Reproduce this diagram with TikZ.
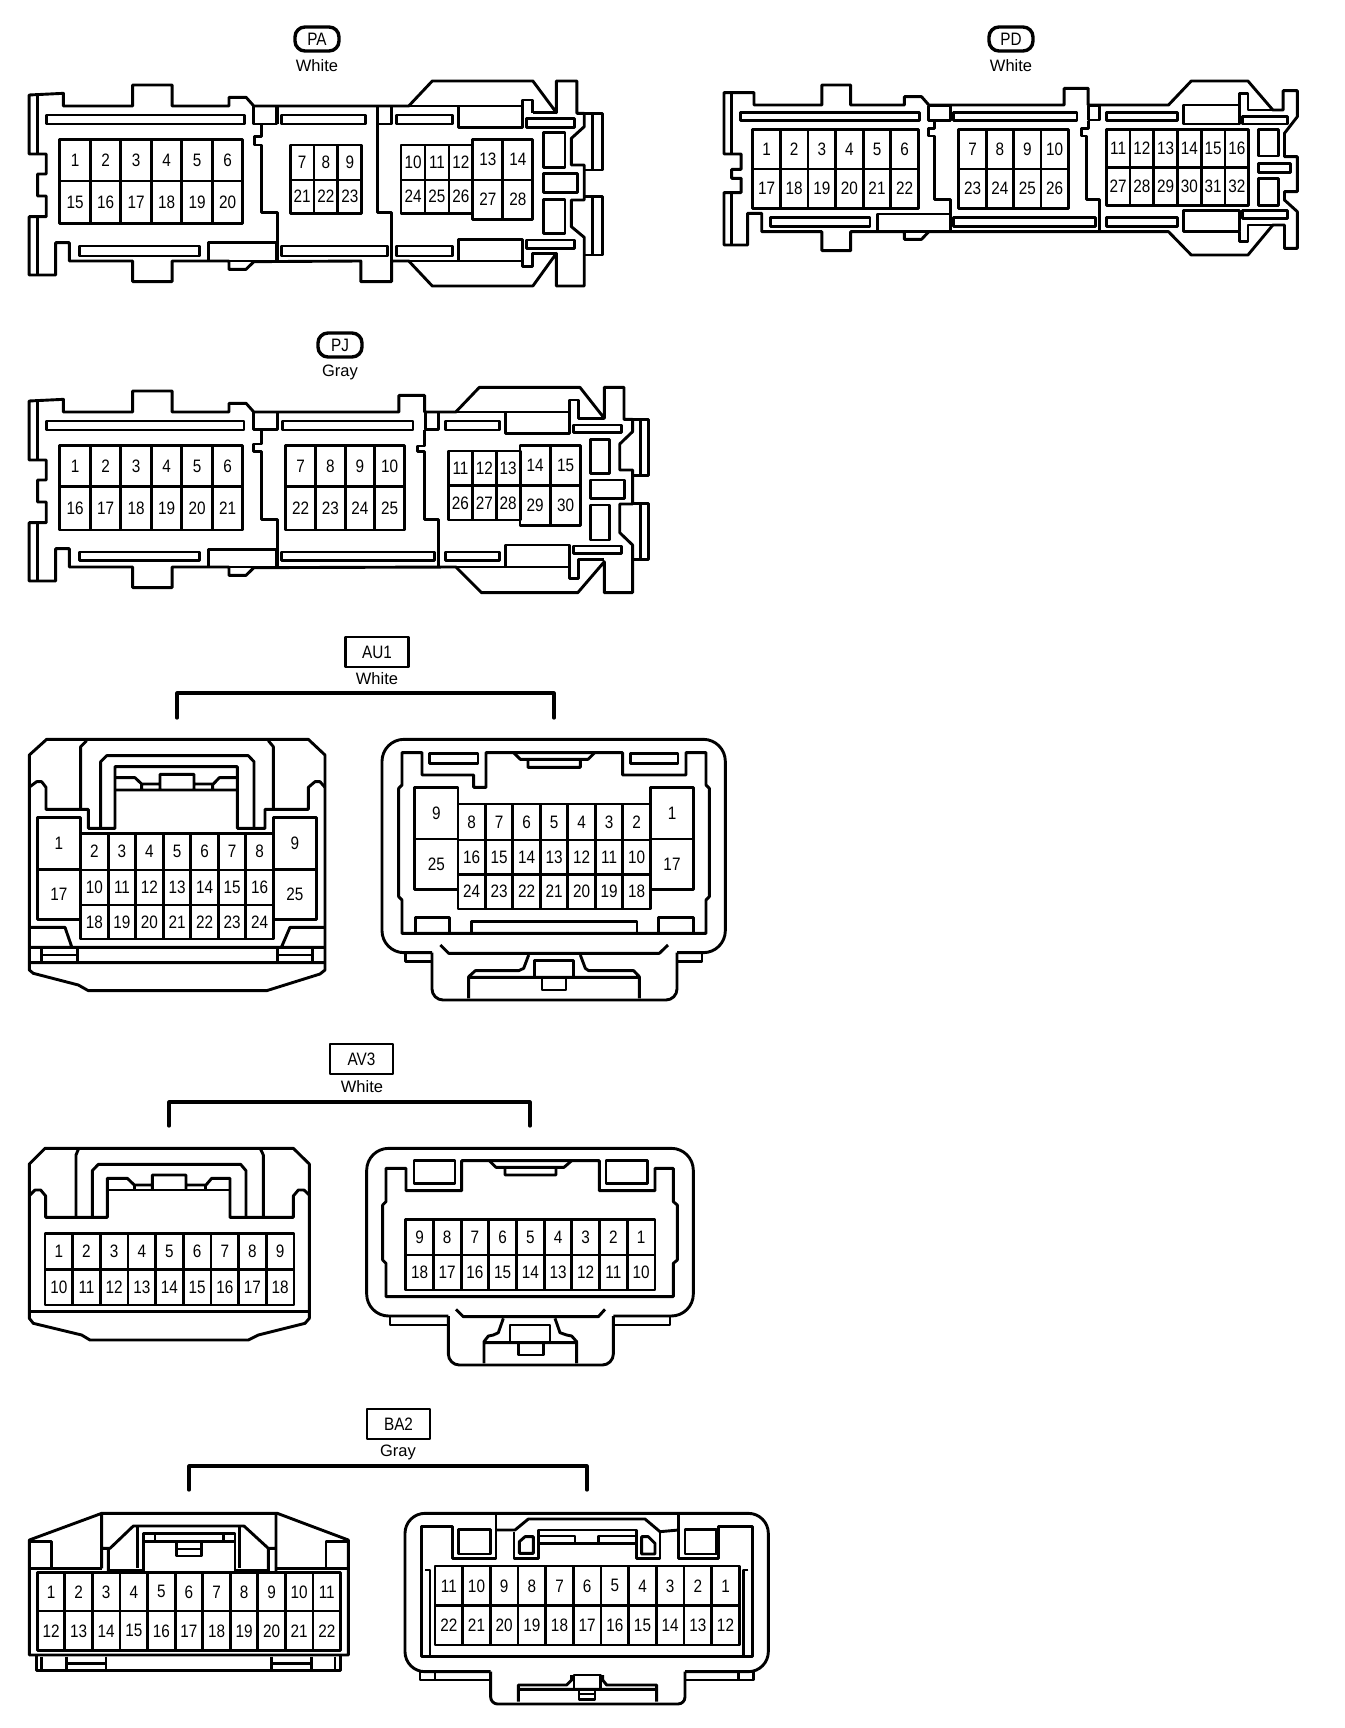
\documentclass[tikz,border=0pt]{standalone}
\usepackage{fontspec}
\setmainfont{Liberation Sans}
\newfontfamily\digitfont[FakeStretch=0.85]{Liberation Sans}
\tikzset{
  ln/.style={line width=2.9pt,line join=round,black},
  pinbox/.style={ln},
  pinlabel/.style={font=\digitfont\fontsize{18}{18}\selectfont,inner sep=0pt,black},
  pill/.style={draw,ln,line width=3.4pt,rounded corners=10pt,minimum width=44pt,minimum height=24pt,inner sep=0pt,font=\digitfont\fontsize{18}{18}\selectfont},
  tag/.style={draw,ln,minimum width=63pt,minimum height=30pt,inner sep=0pt,font=\digitfont\fontsize{18}{18}\selectfont},
  colour/.style={inner sep=0pt,font=\fontsize{16.5}{17}\selectfont},
  bracket/.style={ln,line width=3.2pt,line cap=round}
}
\newcommand\pins[6]{%
  \foreach \lab [count=\ci from 0] in {#6} {
    \pgfmathsetmacro\xa{#2+\ci*#3}
    \pgfmathsetmacro\xb{#2+(\ci+1)*#3}
    \draw[pinbox] (\xa,#4) rectangle (\xb,#5);
    \node[pinlabel] (#1-\lab) at ({(\xa+\xb)/2},{(#4+#5)/2}) {\lab};
  }}
\newcommand\boxr[4]{\draw[ln] (#1,#2) rectangle (#3,#4);}
\begin{document}
\begin{tikzpicture}[x=1pt,y=-1pt]
\useasboundingbox (0,0) rectangle (1344,1728);
% ---------- PA
\node[pill] (paT) at (317,39) {PA};
\node[colour] (paC) at (317,66) {White};
\begin{scope}[xscale=.428,yscale=1/3]
\draw[ln] (68,285)--(68,462)--(108,462)--(108,522)--(88,522)--(88,588)--(108,588)--(108,650)--(68,650)--(68,825)--(130,825)--(130,728)--(162,728)--(162,783)--(310,783)--(310,845)--(402,845)--(402,783)--(535,783)--(535,808)--(575,808)--(593,785)--(843,783)--(843,845)--(915,845)--(915,783)--(955,783)--(1010,858)--(1245,858)--(1300,760)--(1300,858)--(1365,858)--(1365,712)--(1335,680)--(1335,600)--(1365,600)--(1365,495)--(1335,495)--(1335,415)--(1365,380)--(1365,340)--(1348,340)--(1348,243)--(1300,243)--(1300,338)--(1245,243)--(1010,243)--(955,318)--(593,318)--(575,292)--(535,292)--(535,318)--(402,318)--(402,255)--(310,255)--(310,318)--(148,318)--(148,280)--cycle;
\draw[ln] (88,285)--(88,462) (88,650)--(88,825);
\draw[ln] (1365,340)--(1408,340)--(1408,510)--(1365,510) (1385,340)--(1385,510);
\draw[ln] (1365,590)--(1408,590)--(1408,765)--(1365,765) (1385,590)--(1385,765);
\boxr{108}{345}{572}{372}\boxr{593}{318}{645}{372}\boxr{658}{345}{855}{372}\boxr{882}{318}{915}{372}\boxr{927}{345}{1057}{372}\boxr{1072}{318}{1220}{382}\boxr{1230}{355}{1342}{382}
\draw[ln] (1220,382)--(1220,300)--(1245,300)--(1245,338);
\draw[ln] (1245,338)--(1300,338);
\boxr{1270}{398}{1320}{502}\boxr{1270}{520}{1350}{578}\boxr{1270}{598}{1320}{700}
\boxr{185}{738}{467}{768}\boxr{487}{728}{645}{783}\boxr{658}{738}{905}{768}\boxr{927}{738}{1057}{768}\boxr{1072}{718}{1220}{783}\boxr{1230}{720}{1342}{745}
\draw[ln] (1220,783)--(1220,800)--(1245,800)--(1245,760)--(1300,760);
\draw[ln] (610,372)--(610,410)--(595,410)--(595,435)--(610,435)--(610,638)--(648,638)--(648,783);
\draw[ln] (648,318)--(648,372) (882,372)--(882,638)--(915,638)--(915,783);
\draw[ln] (955,318)--(1220,318) (955,783)--(1220,783);
\pins{pa}{140}{71.2}{418}{543}{1,2,3,4,5,6}
\pins{pa}{140}{71.2}{543}{670}{15,16,17,18,19,20}
\pins{pa}{678}{55.7}{435}{540}{7,8,9}
\pins{pa}{678}{55.7}{540}{640}{21,22,23}
\pins{pa}{937}{56}{435}{540}{10,11,12}
\pins{pa}{937}{56}{540}{640}{24,25,26}
\pins{pa}{1105}{70}{418}{540}{13,14}
\pins{pa}{1105}{70}{540}{658}{27,28}
\end{scope}
% ---------- PD
\node[pill] (pdT) at (1011,39) {PD};
\node[colour] (pdC) at (1011,66) {White};
\begin{scope}[shift={(672.4,0)},xscale=.4295,yscale=1/3]
\draw[ln] (120,278)--(190,278)--(190,315)--(348,315)--(348,255)--(415,255)--(415,315)--(540,315)--(540,290)--(580,290)--(597,315)--(912,315)--(912,265)--(968,265)--(968,315)--(1155,315)--(1208,243)--(1340,243)--(1398,330)--(1422,330)--(1422,272)--(1455,272)--(1455,350)--(1425,400)--(1425,470)--(1455,470)--(1455,575)--(1425,575)--(1425,600)--(1455,635)--(1455,745)--(1425,745)--(1425,675)--(1398,675)--(1340,765)--(1208,765)--(1155,695)--(597,695)--(580,718)--(540,718)--(540,695)--(415,695)--(415,752)--(348,752)--(348,695)--(208,695)--(208,640)--(175,640)--(175,735)--(120,735)--(120,578)--(160,578)--(160,535)--(138,535)--(138,508)--(160,508)--(160,462)--(120,462)--cycle;
\draw[ln] (138,278)--(138,462) (138,578)--(138,735);
\boxr{158}{338}{575}{362}\boxr{597}{318}{648}{362}\boxr{655}{338}{942}{362}\boxr{968}{318}{995}{360}\boxr{1010}{338}{1175}{362}\boxr{1190}{315}{1320}{372}\boxr{1328}{350}{1432}{372}
\draw[ln] (1320,372)--(1320,280)--(1340,280)--(1340,330)--(1398,330);
\boxr{1365}{388}{1412}{468}\boxr{1365}{490}{1440}{518}\boxr{1365}{535}{1412}{617}
\boxr{228}{652}{460}{680}\boxr{478}{642}{648}{695}\boxr{655}{652}{985}{680}\boxr{1010}{652}{1175}{680}\boxr{1190}{632}{1320}{695}\boxr{1328}{632}{1432}{655}
\draw[ln] (1320,695)--(1320,725)--(1340,725)--(1340,675)--(1398,675);
\draw[ln] (610,362)--(610,385)--(597,385)--(597,408)--(610,408)--(610,598)--(648,598)--(648,695);
\draw[ln] (968,362)--(968,385)--(952,385)--(952,408)--(965,408)--(965,598)--(995,598)--(995,695);
\pins{pd}{187}{64.3}{388}{507}{1,2,3,4,5,6}
\pins{pd}{187}{64.3}{507}{625}{17,18,19,20,21,22}
\pins{pd}{667}{63.75}{388}{507}{7,8,9,10}
\pins{pd}{667}{63.75}{507}{625}{23,24,25,26}
\pins{pd}{1010}{55.3}{388}{502}{11,12,13,14,15,16}
\pins{pd}{1010}{55.3}{502}{617}{27,28,29,30,31,32}
\end{scope}
% ---------- PJ
\node[pill] (pjT) at (340,345) {PJ};
\node[colour] (pjC) at (340,372.5) {Gray};
\begin{scope}[shift={(0,320)},xscale=.428,yscale=1/3]
\draw[ln] (68,243)--(68,420)--(108,420)--(108,480)--(88,480)--(88,546)--(108,546)--(108,608)--(68,608)--(68,783)--(130,783)--(130,686)--(162,686)--(162,741)--(310,741)--(310,803)--(402,803)--(402,741)--(535,741)--(535,766)--(575,766)--(593,743)--(1065,741)--(1125,818)--(1350,818)--(1412,725)--(1412,818)--(1478,818)--(1478,675)--(1448,638)--(1448,552)--(1478,552)--(1478,450)--(1448,450)--(1448,372)--(1478,335)--(1478,298)--(1458,298)--(1458,202)--(1412,202)--(1412,295)--(1355,202)--(1120,202)--(1065,276)--(992,276)--(992,226)--(932,226)--(932,276)--(593,276)--(575,250)--(535,250)--(535,276)--(402,276)--(402,213)--(310,213)--(310,276)--(148,276)--(148,238)--cycle;
\draw[ln] (88,243)--(88,420) (88,608)--(88,783);
\draw[ln] (1478,298)--(1515,298)--(1515,467)--(1478,467) (1496,298)--(1496,467);
\draw[ln] (1478,550)--(1515,550)--(1515,718)--(1478,718) (1496,550)--(1496,718);
\boxr{108}{303}{570}{330}\boxr{593}{276}{648}{328}\boxr{660}{303}{965}{330}\boxr{995}{276}{1025}{328}\boxr{1040}{303}{1167}{330}\boxr{1182}{276}{1330}{340}\boxr{1340}{315}{1452}{338}
\draw[ln] (1330,340)--(1330,240)--(1352,240)--(1352,296)--(1412,296);
\draw[ln] (1065,276)--(1182,276) (1065,741)--(1330,741);
\boxr{1380}{358}{1425}{460}\boxr{1380}{480}{1460}{535}\boxr{1380}{555}{1425}{660}
\draw[ln] (610,330)--(610,372)--(593,372)--(593,395)--(610,395)--(610,598)--(648,598)--(648,741);
\draw[ln] (992,330)--(992,378)--(975,378)--(975,395)--(992,395)--(992,598)--(1025,598)--(1025,741);
\boxr{185}{696}{467}{722}\boxr{487}{688}{645}{741}\boxr{658}{696}{1015}{722}\boxr{1040}{696}{1167}{722}\boxr{1182}{675}{1330}{741}\boxr{1340}{678}{1452}{700}
\draw[ln] (1330,741)--(1330,775)--(1352,775)--(1352,718)--(1412,718);
\pins{pj}{140}{71.2}{377}{500}{1,2,3,4,5,6}
\pins{pj}{140}{71.2}{500}{630}{16,17,18,19,20,21}
\pins{pj}{668}{69.25}{377}{500}{7,8,9,10}
\pins{pj}{668}{69.25}{500}{630}{22,23,24,25}
\pins{pj}{1048}{55.7}{393}{497}{11,12,13}
\pins{pj}{1048}{55.7}{497}{600}{26,27,28}
\pins{pj}{1215}{71}{377}{497}{14,15}
\pins{pj}{1215}{71}{497}{617}{29,30}
\end{scope}
% ---------- AU1
\node[tag] (auT) at (377,652) {AU1};
\node[colour] (auC) at (377,678.5) {White};
\coordinate (au1) at (177,718);\coordinate (au2) at (177,693);\coordinate (au3) at (554,693);\coordinate (au4) at (554,718);
\draw[bracket] (au1)--(au2)--(au3)--(au4);
\begin{scope}[shift={(0,640)},scale=1/3]
\draw[ln] (88,345)--(140,298)--(925,298)--(975,345)--(975,990)--(960,1002)--(800,1052)--(265,1052)--(235,1035)--(100,1000)--(88,990)--cycle;
\draw[ln] (90,440)--(110,425)--(125,425)--(138,442)--(138,508)--(265,508)--(265,565)--(345,565)--(345,380)--(712,380)--(712,565)--(795,565)--(795,508)--(925,508)--(925,442)--(945,425)--(960,425)--(975,442);
\draw[ln] (242,508)--(242,320)--(260,302) (820,508)--(820,320)--(805,302);
\draw[ln] (302,565)--(302,365)--(320,347)--(745,347)--(762,365)--(762,565);
\draw[ln] (348,413)--(405,413)--(425,432)--(480,432) (480,450)--(480,403)--(582,403)--(582,450) (582,432)--(640,432)--(658,413)--(712,413) (348,450)--(712,450) (425,432)--(425,450) (638,432)--(638,450);
\pins{aul}{112}{130}{533}{688}{1}
\pins{aul}{112}{130}{688}{838}{17}
\pins{aul}{820}{130}{533}{688}{9}
\pins{aul}{820}{130}{688}{838}{25}
\pins{aul}{242}{82.6}{580}{690}{2,3,4,5,6,7,8}
\pins{aul}{242}{82.6}{690}{795}{10,11,12,13,14,15,16}
\pins{aul}{242}{82.6}{795}{897}{18,19,20,21,22,23,24}
\draw[ln] (90,862)--(195,862)--(215,920) (975,862)--(870,862)--(845,920) (90,922)--(975,922) (90,968)--(975,968);
\draw[ln] (125,922)--(125,968) (232,922)--(232,968) (125,945)--(232,945) (832,922)--(832,968) (938,922)--(938,968) (832,945)--(938,945);
\end{scope}
\begin{scope}[shift={(372,640)},scale=1/3]
\draw[ln,rounded corners=22pt] (180,938)--(30,938)--(30,298)--(1060,298)--(1060,938)--(915,938);
\draw[ln,rounded corners=11pt] (915,938)--(915,1080)--(180,1080)--(180,938);
\draw[ln] (100,938)--(100,965)--(180,965) (990,938)--(990,965)--(915,965);
\draw[ln] (90,880)--(90,780)--(80,770)--(80,445)--(90,435)--(90,338)--(150,338)--(150,405)--(305,405)--(305,442)--(342,442)--(342,338)--(752,338)--(752,405)--(942,405)--(942,338)--(1002,338)--(1002,435)--(1012,445)--(1012,770)--(1002,780)--(1002,880)--cycle;
\draw[ln] (425,338)--(445,358)--(468,358)--(468,382)--(625,382)--(625,358)--(648,358)--(668,338) (445,358)--(648,358);
\boxr{172}{340}{318}{370}\boxr{775}{340}{918}{370}
\pins{aur}{128}{130}{443}{597}{9}
\pins{aur}{128}{130}{597}{748}{25}
\pins{aur}{835}{130}{443}{597}{1}
\pins{aur}{835}{130}{597}{748}{17}
\pins{aur}{258}{82.4}{492}{600}{8,7,6,5,4,3,2}
\pins{aur}{258}{82.4}{600}{703}{16,15,14,13,12,11,10}
\pins{aur}{258}{82.4}{703}{807}{24,23,22,21,20,19,18}
\draw[ln] (130,880)--(130,832)--(232,832)--(232,880) (860,880)--(860,832)--(965,832)--(965,880) (298,880)--(298,845)--(795,845)--(795,880);
\draw[ln] (205,915)--(230,940)--(862,940)--(888,915);
\draw[ln] (470,945)--(455,985)--(440,992)--(310,992)--(290,1010)--(290,1075) (625,945)--(640,985)--(650,992)--(785,992)--(802,1010)--(802,1075) (290,1012)--(802,1012);
\draw[ln] (488,1012)--(488,962)--(605,962)--(605,1012) (510,1012)--(510,1050)--(582,1050)--(582,1012);
\end{scope}
% ---------- AV3
\node[tag] (avT) at (361.5,1059) {AV3};
\node[colour] (avC) at (362,1087) {White};
\coordinate (av1) at (169,1126);\coordinate (av2) at (169,1102);\coordinate (av3) at (530,1102);\coordinate (av4) at (530,1126);
\draw[bracket] (av1)--(av2)--(av3)--(av4);
\begin{scope}[shift={(0,1040)},scale=1/3]
\draw[ln] (88,372)--(135,325)--(880,325)--(928,372)--(928,835)--(915,850)--(775,885)--(745,900)--(270,900)--(245,885)--(100,850)--(88,835)--cycle;
\draw[ln] (90,465)--(105,450)--(122,450)--(137,468)--(137,532)--(322,532)--(322,415)--(382,415)--(403,435)--(457,435) (457,450)--(457,405)--(558,405)--(558,450) (558,435)--(618,435)--(635,415)--(690,415)--(690,532)--(880,532)--(880,468)--(895,450)--(912,450)--(928,465);
\draw[ln] (322,450)--(690,450) (403,435)--(403,450) (617,435)--(617,450);
\draw[ln] (228,532)--(228,345)--(235,328) (790,532)--(790,345)--(782,328);
\draw[ln] (277,532)--(277,392)--(295,373)--(722,373)--(738,392)--(738,532);
\pins{avl}{135}{83}{580}{688}{1,2,3,4,5,6,7,8,9}
\pins{avl}{135}{83}{688}{795}{10,11,12,13,14,15,16,17,18}
\draw[ln] (88,815)--(928,815);
\end{scope}
\begin{scope}[shift={(340,1040)},scale=1/3]
\draw[ln,rounded corners=22pt] (325,828)--(80,828)--(80,325)--(1060,325)--(1060,828)--(820,828);
\draw[ln,rounded corners=11pt] (820,828)--(820,975)--(325,975)--(325,828);
\draw[ln] (150,828)--(150,855)--(325,855) (990,828)--(990,855)--(820,855);
\draw[ln] (138,770)--(138,670)--(128,660)--(128,495)--(138,485)--(138,385)--(198,385)--(198,452)--(365,452)--(365,362)--(778,362)--(778,452)--(945,452)--(945,385)--(1000,385)--(1000,485)--(1012,495)--(1012,660)--(1000,670)--(1000,770)--cycle;
\draw[ln] (448,362)--(468,382)--(495,382)--(495,405)--(648,405)--(648,382)--(672,382)--(695,362) (468,382)--(672,382);
\boxr{222}{362}{345}{430}\boxr{798}{362}{922}{430}
\pins{avr}{197}{83.1}{538}{645}{9,8,7,6,5,4,3,2,1}
\pins{avr}{197}{83.1}{645}{750}{18,17,16,15,14,13,12,11,10}
\draw[ln] (348,808)--(370,830)--(775,830)--(795,808);
\draw[ln] (490,835)--(475,878)--(460,885)--(445,888)--(432,905)--(432,970) (645,835)--(660,878)--(680,885)--(695,888)--(710,905)--(710,970) (432,908)--(710,908);
\draw[ln] (510,908)--(510,855)--(630,855)--(630,908) (535,908)--(535,945)--(610,945)--(610,908);
\end{scope}
% ---------- BA2
\node[tag] (baT) at (398.5,1424) {BA2};
\node[colour] (baC) at (398,1452) {Gray};
\coordinate (ba1) at (189,1490);\coordinate (ba2) at (189,1466);\coordinate (ba3) at (587,1466);\coordinate (ba4) at (587,1490);
\draw[bracket] (ba1)--(ba2)--(ba3)--(ba4);
\begin{scope}[shift={(0,1400)},scale=1/3]
\draw[ln] (88,420)--(305,340)--(832,340)--(1045,420)--(1045,765)--(88,765)--cycle;
\draw[ln] (110,765)--(110,812)--(1022,812)--(1022,765) (125,770)--(125,812) (200,770)--(200,812) (318,770)--(318,812) (815,770)--(815,812) (935,770)--(935,812) (1005,770)--(1005,812) (200,790)--(318,790) (815,790)--(935,790);
\draw[ln] (88,425)--(155,425)--(155,505) (88,505)--(305,505) (1045,425)--(978,425)--(978,505) (828,505)--(1045,505);
\draw[ln] (305,345)--(305,505) (305,445)--(330,445)--(400,378)--(732,378)--(805,445)--(828,445) (828,345)--(828,515) (325,450)--(325,515) (805,445)--(805,515);
\draw[ln] (412,378)--(412,505) (718,378)--(718,505) (325,510)--(430,510) (705,510)--(805,510);
\draw[ln] (430,518)--(430,400)--(705,400)--(705,518) (430,425)--(705,425) (465,400)--(465,425) (670,400)--(670,425) (530,425)--(530,468)--(605,468)--(605,425) (530,447)--(605,447);
\pins{bal}{112}{82.7}{518}{633}{1,2,3,4,5,6,7,8,9,10,11}
\pins{bal}{112}{82.7}{633}{752}{12,13,14,15,16,17,18,19,20,21,22}
\end{scope}
\begin{scope}[shift={(390,1400)},scale=1/3]
\draw[ln,rounded corners=20pt] (302,815)--(45,815)--(45,340)--(1135,340)--(1135,815)--(885,815);
\draw[ln,rounded corners=7pt] (885,815)--(885,912)--(302,912)--(302,815);
\draw[ln] (90,815)--(90,840)--(302,840) (1090,815)--(1090,840)--(885,840) (135,820)--(135,838) (1045,820)--(1045,838);
\draw[ln] (318,345)--(318,475)--(188,475)--(188,380)--(95,380)--(95,770)--(1088,770)--(1088,380)--(985,380)--(985,475)--(865,475)--(865,345);
\draw[ln] (318,390)--(375,390)--(415,357)--(765,357)--(810,395)--(865,390);
\boxr{205}{388}{302}{462}\boxr{885}{388}{980}{462}
\draw[ln] (372,395)--(372,475)--(445,475)--(445,390)--(740,390)--(740,475)--(810,475)--(810,395);
\draw[ln] (388,460)--(388,425)--(405,410)--(430,410)--(430,460)--cycle (755,410)--(775,410)--(795,430)--(795,462)--(755,462)--cycle;
\draw[ln] (445,408)--(555,408)--(555,430)--(625,430)--(625,408)--(740,408) (445,430)--(555,430) (625,430)--(740,430);
\pins{bar}{135}{83}{498}{617}{11,10,9,8,7,6,5,4,3,2,1}
\pins{bar}{135}{83}{617}{735}{22,21,20,19,18,17,16,15,14,13,12}
\draw[ln] (105,510)--(120,510)--(120,770) (1075,510)--(1060,510)--(1060,770);
\draw[ln] (545,825)--(545,840)--(530,855)--(385,855)--(385,905) (638,825)--(638,840)--(650,855)--(800,855)--(800,905) (385,868)--(800,868);
\draw[ln] (552,868)--(552,825)--(632,825)--(632,868) (567,868)--(567,898)--(615,898)--(615,868) (567,882)--(615,882);
\end{scope}
\end{tikzpicture}
\end{document}
